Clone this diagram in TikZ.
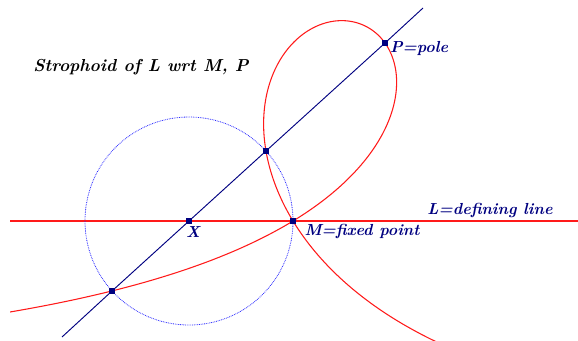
\documentclass[tikz,border=0pt]{standalone}
\usepackage{fontspec}
\usetikzlibrary{positioning}
\definecolor{navy}{HTML}{000080}
\definecolor{curvered}{HTML}{FF1A1A}
\definecolor{circblue}{HTML}{2A2AFF}
\tikzset{
  redline/.style={draw=curvered, line width=0.8pt},
  circline/.style={draw=circblue, line width=0.6pt, dash pattern=on 0.6pt off 0.7pt},
  navyline/.style={draw=navy, line width=0.7pt},
  sqpoint/.style={rectangle, fill=navy, inner sep=0pt, minimum size=4pt},
  lbl/.style={text=navy, inner sep=0pt, font=\fontsize{12}{14}\selectfont\bfseries\itshape},
  titlelbl/.style={text=black, inner sep=0pt, font=\fontsize{13}{15}\selectfont\bfseries\itshape}
}

\begin{document}
\begin{tikzpicture}[x=0.75pt, y=-0.75pt]
  \useasboundingbox (0,0) rectangle (578,340);
  % construction points
  \coordinate (Lleft) at (10,221);
  \coordinate (Lright) at (578,221);
  \coordinate (diagA) at (62,337);
  \coordinate (diagB) at (423,8);
  \coordinate (X) at (189,221);
  \coordinate (M) at (293,221);
  \coordinate (P) at (385,43);
  \coordinate (Q1) at (266,151);
  \coordinate (Q2) at (112,291);
  % defining line and circle
  \draw[redline] (Lleft) -- (Lright);
  \draw[circline] (X) circle[radius=104];
  % the strophoid
  \begin{scope}
    \clip (10,0) rectangle (578,340);
    \draw[redline] plot[domain=34:283, samples=300, smooth, variable=\t]
      ({385+(92-178*cot(\t/2))*cos(\t)}, {43-(92-178*cot(\t/2))*sin(\t)});
  \end{scope}
  \draw[navyline] (diagA) -- (Q2) -- (X) -- (Q1) -- (P) -- (diagB);
  \foreach \p in {X,M,P,Q1,Q2}
    \node[sqpoint] at (\p) {};
  % labels
  \node[titlelbl] (title) at (141,67) {Strophoid of L wrt M, P};
  \node[lbl] (poletxt) at (419,48) {P=pole};
  \node[lbl] (xtxt) at (193,232) {X};
  \node[lbl] (mtxt) at (362,231) {M=fixed point};
  \node[lbl] (ltxt) at (490,210) {L=defining line};
\end{tikzpicture}
\end{document}
